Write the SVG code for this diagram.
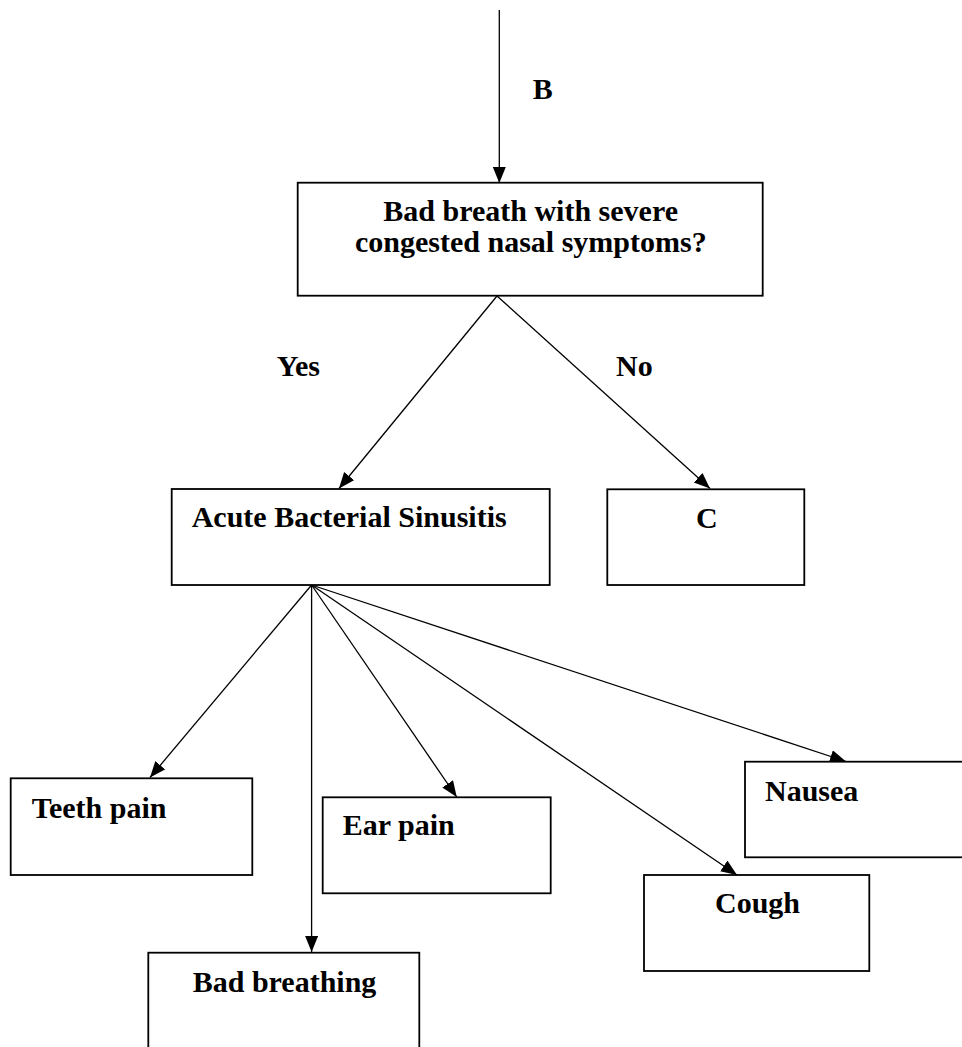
<svg xmlns="http://www.w3.org/2000/svg" width="962" height="1047" viewBox="0 0 962 1047">
  <style>
    .box { fill: #ffffff; stroke: #000000; stroke-width: 1.8; }
    .lbl { font-family: "Liberation Serif", "Times New Roman", serif; font-weight: bold; font-size: 30px; fill: #000000; }
    .edge { stroke: #000000; stroke-width: 1.3; fill: none; marker-end: url(#arrow); }
  </style>
  <defs>
    <marker id="arrow" markerUnits="userSpaceOnUse" markerWidth="17" markerHeight="14" refX="16" refY="6.5" orient="auto">
      <path d="M0,0 L16,6.5 L0,13 Z" fill="#000000"/>
    </marker>
  </defs>
  <rect width="962" height="1047" fill="#ffffff"/>

  <!-- connectors and their labels -->
  <g id="connectors">
    <line class="edge" x1="499.3" y1="10" x2="499.3" y2="183"/>
    <line class="edge" x1="497" y1="296" x2="339" y2="488.5"/>
    <line class="edge" x1="497" y1="296" x2="710" y2="488.5"/>
    <line class="edge" x1="311.6" y1="585" x2="150" y2="777.5"/>
    <line class="edge" x1="311.6" y1="585" x2="311.6" y2="952"/>
    <line class="edge" x1="311.6" y1="585" x2="456.7" y2="797"/>
    <line class="edge" x1="311.6" y1="585" x2="737" y2="875"/>
    <line class="edge" x1="311.6" y1="585" x2="846" y2="761.5"/>
    <text class="lbl" x="532.7" y="99">B</text>
    <text class="lbl" x="276.7" y="376">Yes</text>
    <text class="lbl" x="616" y="376">No</text>
  </g>

  <!-- question node -->
  <g id="node-question">
    <rect class="box" x="297.7" y="182.7" width="465" height="113"/>
    <text class="lbl" x="383.3" y="220.7">Bad breath with severe</text>
    <text class="lbl" x="355" y="252">congested nasal symptoms?</text>
  </g>

  <g id="node-sinusitis">
    <rect class="box" x="171.7" y="489" width="378" height="96"/>
    <text class="lbl" x="191.7" y="527.3">Acute Bacterial Sinusitis</text>
  </g>

  <g id="node-c">
    <rect class="box" x="607.3" y="489.3" width="197" height="95.7"/>
    <text class="lbl" x="696" y="528.3">C</text>
  </g>

  <g id="node-teeth">
    <rect class="box" x="10.7" y="778.3" width="241.6" height="96.7"/>
    <text class="lbl" x="31.7" y="818">Teeth pain</text>
  </g>

  <g id="node-ear">
    <rect class="box" x="322.7" y="797.3" width="228" height="96"/>
    <text class="lbl" x="342.7" y="835">Ear pain</text>
  </g>

  <g id="node-breathing">
    <rect class="box" x="148.3" y="952.7" width="271" height="120"/>
    <text class="lbl" x="192.7" y="991.7">Bad breathing</text>
  </g>

  <g id="node-cough">
    <rect class="box" x="644" y="875" width="225.3" height="96"/>
    <text class="lbl" x="715" y="913.3">Cough</text>
  </g>

  <g id="node-nausea">
    <rect class="box" x="745" y="761.7" width="240" height="95.6"/>
    <text class="lbl" x="765" y="800.7">Nausea</text>
  </g>
</svg>
